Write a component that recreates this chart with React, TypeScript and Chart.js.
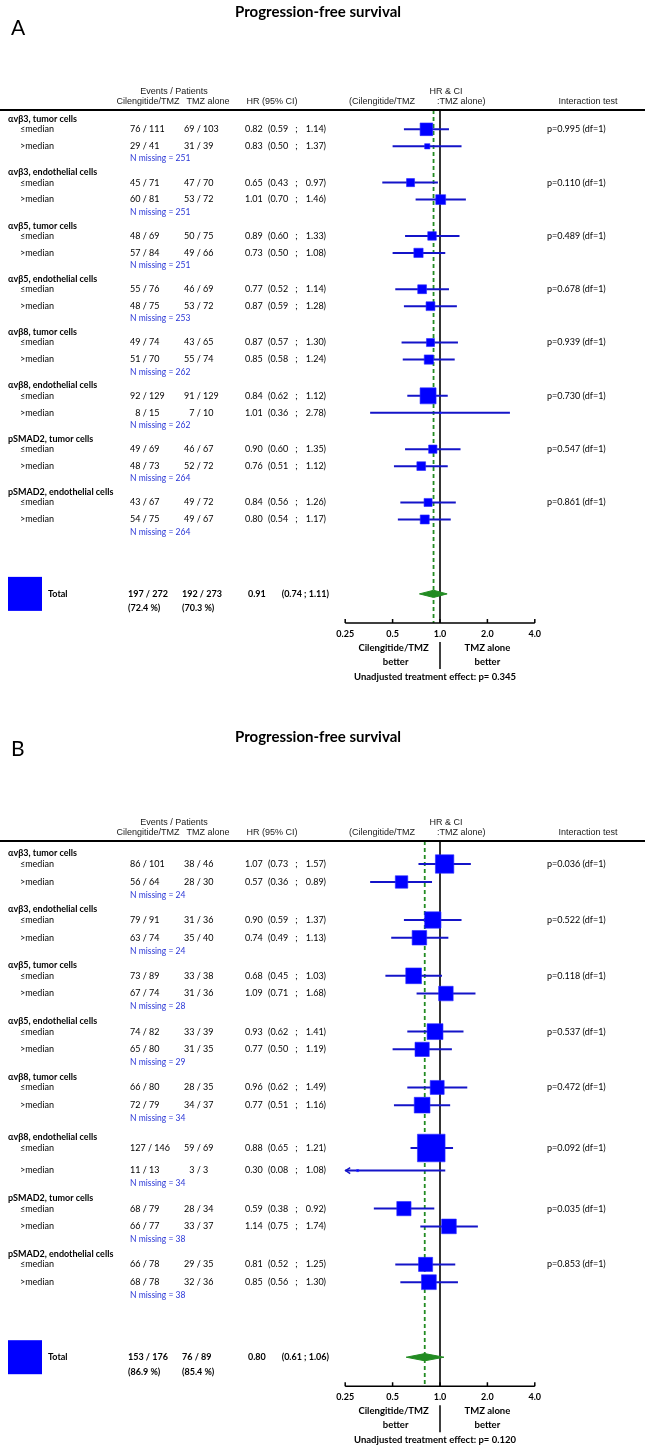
import React, { useEffect, useRef } from "react";
import { Chart, registerables } from "chart.js";
Chart.register(...registerables);

// ---------- shared categories ----------
const groupLabels = [
  "αvβ3, tumor cells",
  "αvβ3, endothelial cells",
  "αvβ5, tumor cells",
  "αvβ5, endothelial cells",
  "αvβ8, tumor cells",
  "αvβ8, endothelial cells",
  "pSMAD2, tumor cells",
  "pSMAD2, endothelial cells",
];
const subgroupLabels = ["≤median", ">median"];
const xTickValues = [0.25, 0.5, 1, 2, 4];
const xTickLabels = ["0.25", "0.5", "1.0", "2.0", "4.0"];

// ---------- Panel A data ----------
const aCilEvents = [[76, 29], [45, 60], [48, 57], [55, 48], [49, 51], [92, 8], [49, 48], [43, 54]];
const aCilPatients = [[111, 41], [71, 81], [69, 84], [76, 75], [74, 70], [129, 15], [69, 73], [67, 75]];
const aTmzEvents = [[69, 31], [47, 53], [50, 49], [46, 53], [43, 55], [91, 7], [46, 52], [49, 49]];
const aTmzPatients = [[103, 39], [70, 72], [75, 66], [69, 72], [65, 74], [129, 10], [67, 72], [72, 67]];
const aHR = [[0.82, 0.83], [0.65, 1.01], [0.89, 0.73], [0.77, 0.87], [0.87, 0.85], [0.84, 1.01], [0.90, 0.76], [0.84, 0.80]];
const aLower = [[0.59, 0.50], [0.43, 0.70], [0.60, 0.50], [0.52, 0.59], [0.57, 0.58], [0.62, 0.36], [0.60, 0.51], [0.56, 0.54]];
const aUpper = [[1.14, 1.37], [0.97, 1.46], [1.33, 1.08], [1.14, 1.28], [1.30, 1.24], [1.12, 2.78], [1.35, 1.12], [1.26, 1.17]];
const aInteractionP = ["0.995", "0.110", "0.489", "0.678", "0.939", "0.730", "0.547", "0.861"];
const aMissing = [251, 251, 251, 253, 262, 262, 264, 264];
const aTotalEvents = [197, 192];
const aTotalPatients = [272, 273];
const aTotalPct = ["72.4", "70.3"];
const aTotalHR = [0.91, 0.74, 1.11];
const aTreatmentP = "0.345";

// ---------- Panel B data ----------
const bCilEvents = [[86, 56], [79, 63], [73, 67], [74, 65], [66, 72], [127, 11], [68, 66], [66, 68]];
const bCilPatients = [[101, 64], [91, 74], [89, 74], [82, 80], [80, 79], [146, 13], [79, 77], [78, 78]];
const bTmzEvents = [[38, 28], [31, 35], [33, 31], [33, 31], [28, 34], [59, 3], [28, 33], [29, 32]];
const bTmzPatients = [[46, 30], [36, 40], [38, 36], [39, 35], [35, 37], [69, 3], [34, 37], [35, 36]];
const bHR = [[1.07, 0.57], [0.90, 0.74], [0.68, 1.09], [0.93, 0.77], [0.96, 0.77], [0.88, 0.30], [0.59, 1.14], [0.81, 0.85]];
const bLower = [[0.73, 0.36], [0.59, 0.49], [0.45, 0.71], [0.62, 0.50], [0.62, 0.51], [0.65, 0.08], [0.38, 0.75], [0.52, 0.56]];
const bUpper = [[1.57, 0.89], [1.37, 1.13], [1.03, 1.68], [1.41, 1.19], [1.49, 1.16], [1.21, 1.08], [0.92, 1.74], [1.25, 1.30]];
const bInteractionP = ["0.036", "0.522", "0.118", "0.537", "0.472", "0.092", "0.035", "0.853"];
const bMissing = [24, 24, 28, 29, 34, 34, 38, 38];
const bTotalEvents = [153, 76];
const bTotalPatients = [176, 89];
const bTotalPct = ["86.9", "85.4"];
const bTotalHR = [0.80, 0.61, 1.06];
const bTreatmentP = "0.120";

// ---------- layout / style (not data) ----------
const W = 648;
const LEGEND_SIDE = 34;
const BLUE = "#0000ff";
const CI_BLUE = "#1414c8";
const NMISS_BLUE = "#2a36d6";
const GREEN = "#228b22";
const ROW_FONT = "Lato, 'Open Sans', sans-serif";
const HEAD_FONT = "'Liberation Sans', Arial, sans-serif";

const layoutA = { letter: "A", top: 0, height: 720, ppu: 17.77, firstRowPx: 129.3, titleY: 12, letterY: 28, eventsY: 92, colY: 102, ruleY: 110 };
const layoutB = { letter: "B", top: 720, height: 728, ppu: 18.6, firstRowPx: 144, titleY: 17, letterY: 29, eventsY: 103, colY: 113, ruleY: 121 };

const panelA = {
  layout: layoutA, cilEvents: aCilEvents, cilPatients: aCilPatients, tmzEvents: aTmzEvents, tmzPatients: aTmzPatients,
  hr: aHR, lower: aLower, upper: aUpper, pInt: aInteractionP, missing: aMissing,
  totalEvents: aTotalEvents, totalPatients: aTotalPatients, totalPct: aTotalPct, totalHR: aTotalHR, treatP: aTreatmentP,
};
const panelB = {
  layout: layoutB, cilEvents: bCilEvents, cilPatients: bCilPatients, tmzEvents: bTmzEvents, tmzPatients: bTmzPatients,
  hr: bHR, lower: bLower, upper: bUpper, pInt: bInteractionP, missing: bMissing,
  totalEvents: bTotalEvents, totalPatients: bTotalPatients, totalPct: bTotalPct, totalHR: bTotalHR, treatP: bTreatmentP,
};

type PanelT = typeof panelA;

function computeRows(p: PanelT) {
  const ppu = p.layout.ppu;
  const F = [0.58, 0.955, 0.7, 0.765];
  const E = p.totalEvents[0] + p.totalEvents[1];
  const rows: any[] = [];
  let prevMiss = 0;
  for (let g = 0; g < groupLabels.length; g++) {
    const side = [0, 1].map((s) => (LEGEND_SIDE * (p.cilEvents[g][s] + p.tmzEvents[g][s])) / E);
    const ex = side.map((s) => Math.max(0, s / 2 - 9) / ppu);
    const header = g === 0 ? -F[0] : prevMiss + F[3] + ex[0];
    const le = header + F[0];
    const gt = le + F[1] + ex[0] + ex[1];
    const miss = gt + F[2] + ex[1];
    prevMiss = miss;
    rows.push({ header, y: [le, gt], miss, side });
  }
  const totalY = prevMiss + 62 / ppu;
  return { rows, totalY };
}

function frac(n: number, d: number) {
  const ns = n < 10 ? "\u2007" + n : String(n);
  return ns + " / " + String(d);
}

function buildConfig(p: PanelT): any {
  const L = p.layout;
  const ppu = L.ppu;
  const { rows, totalY } = computeRows(p);
  const u = (px: number) => (px - L.firstRowPx) / ppu;
  const totalPx = L.firstRowPx + totalY * ppu;
  const axisPx = totalPx + 29;
  const ruleU = u(L.ruleY);
  const axisU = u(axisPx);

  const squarePts: any[] = [];
  const squareR: number[] = [];
  const datasets: any[] = [];
  rows.forEach((r, g) => {
    [0, 1].forEach((s) => {
      squarePts.push({ x: p.hr[g][s], y: r.y[s] });
      squareR.push(r.side[s] / Math.SQRT2);
      datasets.push({
        type: "line",
        data: [{ x: p.lower[g][s], y: r.y[s] }, { x: p.upper[g][s], y: r.y[s] }],
        borderColor: CI_BLUE, borderWidth: 2, pointRadius: 0, fill: false, order: 2,
      });
    });
  });
  datasets.unshift({
    type: "scatter", data: squarePts, pointStyle: "rect", pointRadius: squareR, pointHoverRadius: squareR,
    backgroundColor: BLUE, borderColor: "#2b2bff", pointBorderWidth: 0.6, order: 0,
  });
  const dh = 3.6 / ppu;
  datasets.push({
    type: "line",
    data: [
      { x: p.totalHR[1], y: totalY }, { x: p.totalHR[0], y: totalY - dh }, { x: p.totalHR[2], y: totalY },
      { x: p.totalHR[0], y: totalY + dh }, { x: p.totalHR[1], y: totalY },
    ],
    borderColor: GREEN, backgroundColor: GREEN, borderWidth: 1, pointRadius: 0, fill: "shape", order: 1,
  });
  datasets.push({
    type: "line", data: [{ x: 1, y: ruleU }, { x: 1, y: axisU }],
    borderColor: "#000", borderWidth: 1.6, pointRadius: 0, fill: false, order: 4,
  });
  datasets.push({
    type: "line", data: [{ x: p.totalHR[0], y: ruleU }, { x: p.totalHR[0], y: axisU }],
    borderColor: GREEN, borderWidth: 1.8, borderDash: [4, 3], pointRadius: 0, fill: false, order: 3,
  });

  const textPlugin = {
    id: "forestText",
    afterDraw(chart: any) {
      const ctx = chart.ctx as CanvasRenderingContext2D;
      const xs = chart.scales.x;
      const ys = chart.scales.y;
      const Y = (v: number) => ys.getPixelForValue(v);
      const X = (v: number) => xs.getPixelForValue(v);
      ctx.save();
      ctx.textBaseline = "middle";
      const text = (t: string, x: number, y: number, font: string, align: CanvasTextAlign = "left", color = "#000") => {
        ctx.font = font;
        ctx.textAlign = align;
        ctx.fillStyle = color;
        ctx.fillText(t, x, y);
      };
      // title and letter
      text("Progression-free survival", 318, L.titleY, `bold 15px ${ROW_FONT}`, "center");
      text(L.letter, 11, L.letterY, `21px ${ROW_FONT}`, "left");
      // table headers
      const hf = `9px ${HEAD_FONT}`;
      const hc = "#1a1a1a";
      text("Events / Patients", 174, L.eventsY, hf, "center", hc);
      text("HR & CI", 446, L.eventsY, hf, "center", hc);
      text("Cilengitide/TMZ", 148, L.colY, hf, "center", hc);
      text("TMZ alone", 208, L.colY, hf, "center", hc);
      text("HR (95% CI)", 272, L.colY, hf, "center", hc);
      text("(Cilengitide/TMZ", 415, L.colY, hf, "right", hc);
      text(":TMZ alone)", 437, L.colY, hf, "left", hc);
      text("Interaction test", 588, L.colY, hf, "center", hc);
      // rule
      ctx.strokeStyle = "#000";
      ctx.lineWidth = 2;
      ctx.beginPath();
      ctx.moveTo(0, L.ruleY);
      ctx.lineTo(645, L.ruleY);
      ctx.stroke();
      // rows
      const rf = `9px ${ROW_FONT}`;
      const bf = `bold 9px ${ROW_FONT}`;
      const bf2 = `bold 9.5px ${ROW_FONT}`;
      rows.forEach((r, g) => {
        text(groupLabels[g], 8, Y(r.header), bf);
        [0, 1].forEach((s) => {
          const y = Y(r.y[s]);
          text(subgroupLabels[s], 20, y, rf);
          text(frac(p.cilEvents[g][s], p.cilPatients[g][s]), 130, y, rf);
          text(frac(p.tmzEvents[g][s], p.tmzPatients[g][s]), 184, y, rf);
          text(p.hr[g][s].toFixed(2), 245, y, rf);
          text("(" + p.lower[g][s].toFixed(2), 268, y, rf);
          text(";", 296.5, y, rf, "center");
          text(p.upper[g][s].toFixed(2) + ")", 326, y, rf, "right");
          if (p.lower[g][s] < xs.min) {
            const x0 = X(xs.min);
            ctx.strokeStyle = CI_BLUE;
            ctx.lineWidth = 1.5;
            ctx.beginPath();
            ctx.moveTo(x0 + 5, y - 3);
            ctx.lineTo(x0 + 0.5, y);
            ctx.lineTo(x0 + 5, y + 3);
            ctx.stroke();
          }
        });
        text(`p=${p.pInt[g]} (df=1)`, 547, Y(r.y[0]), rf);
        text(`N missing = ${p.missing[g]}`, 130, Y(r.miss), `8.5px ${ROW_FONT}`, "left", NMISS_BLUE);
      });
      // total row
      const ty = Y(totalY);
      ctx.fillStyle = BLUE;
      ctx.fillRect(8, ty - LEGEND_SIDE / 2, LEGEND_SIDE, LEGEND_SIDE);
      text("Total", 48, ty, bf);
      text(frac(p.totalEvents[0], p.totalPatients[0]), 128, ty, bf);
      text(frac(p.totalEvents[1], p.totalPatients[1]), 182, ty, bf);
      text(`(${p.totalPct[0]} %)`, 128, ty + 14.5, bf);
      text(`(${p.totalPct[1]} %)`, 182, ty + 14.5, bf);
      text(p.totalHR[0].toFixed(2), 248, ty, bf);
      text(`(${p.totalHR[1].toFixed(2)} ; ${p.totalHR[2].toFixed(2)})`, 329, ty, bf, "right");
      // x axis
      const ay = Y(axisU);
      ctx.strokeStyle = "#000";
      ctx.lineWidth = 1.5;
      ctx.beginPath();
      ctx.moveTo(X(xTickValues[0]), ay);
      ctx.lineTo(X(xTickValues[xTickValues.length - 1]), ay);
      xTickValues.forEach((v) => {
        ctx.moveTo(X(v), ay);
        ctx.lineTo(X(v), ay - 4);
      });
      ctx.stroke();
      xTickValues.forEach((v, i) => text(xTickLabels[i], X(v), ay + 11, bf, "center"));
      text("Cilengitide/TMZ", X(0.5) + 1, ay + 25, bf2, "center");
      text("better", X(0.5) + 3, ay + 39, bf2, "center");
      text("TMZ alone", X(2), ay + 25, bf2, "center");
      text("better", X(2), ay + 39, bf2, "center");
      ctx.beginPath();
      ctx.lineWidth = 1.5;
      ctx.moveTo(X(1), ay + 19);
      ctx.lineTo(X(1), ay + 46);
      ctx.stroke();
      text(`Unadjusted treatment effect: p= ${p.treatP}`, X(1) - 5, ay + 54, bf2, "center");
      ctx.restore();
    },
  };

  const xLeft = 345.2;
  const xRight = 534.8;
  return {
    type: "scatter",
    data: { datasets },
    options: {
      animation: false,
      responsive: false,
      devicePixelRatio: 1,
      events: [],
      layout: { autoPadding: false, padding: { left: xLeft, right: W - xRight, top: 0, bottom: 0 } },
      plugins: { legend: { display: false }, tooltip: { enabled: false }, title: { display: false } },
      scales: {
        x: { type: "logarithmic", min: 0.25, max: 4, display: false },
        y: { type: "linear", min: -L.firstRowPx / ppu, max: (L.height - L.firstRowPx) / ppu, reverse: true, display: false },
      },
    },
    plugins: [textPlugin],
  };
}

function PanelChart({ panel }: { panel: PanelT }) {
  const ref = useRef<HTMLCanvasElement>(null);
  useEffect(() => {
    const chart = new Chart(ref.current as HTMLCanvasElement, buildConfig(panel));
    let alive = true;
    if ((document as any).fonts && (document as any).fonts.ready) {
      (document as any).fonts.ready.then(() => {
        if (alive) chart.update();
      });
    }
    return () => {
      alive = false;
      chart.destroy();
    };
  }, [panel]);
  const L = panel.layout;
  return (
    <canvas
      ref={ref}
      width={W}
      height={L.height}
      style={{ position: "absolute", left: 0, top: L.top, width: W, height: L.height }}
    />
  );
}

export default function App() {
  return (
    <div style={{ position: "absolute", left: 0, top: 0, width: W, height: 1448, background: "#fff" }}>
      <PanelChart panel={panelA} />
      <PanelChart panel={panelB} />
    </div>
  );
}
